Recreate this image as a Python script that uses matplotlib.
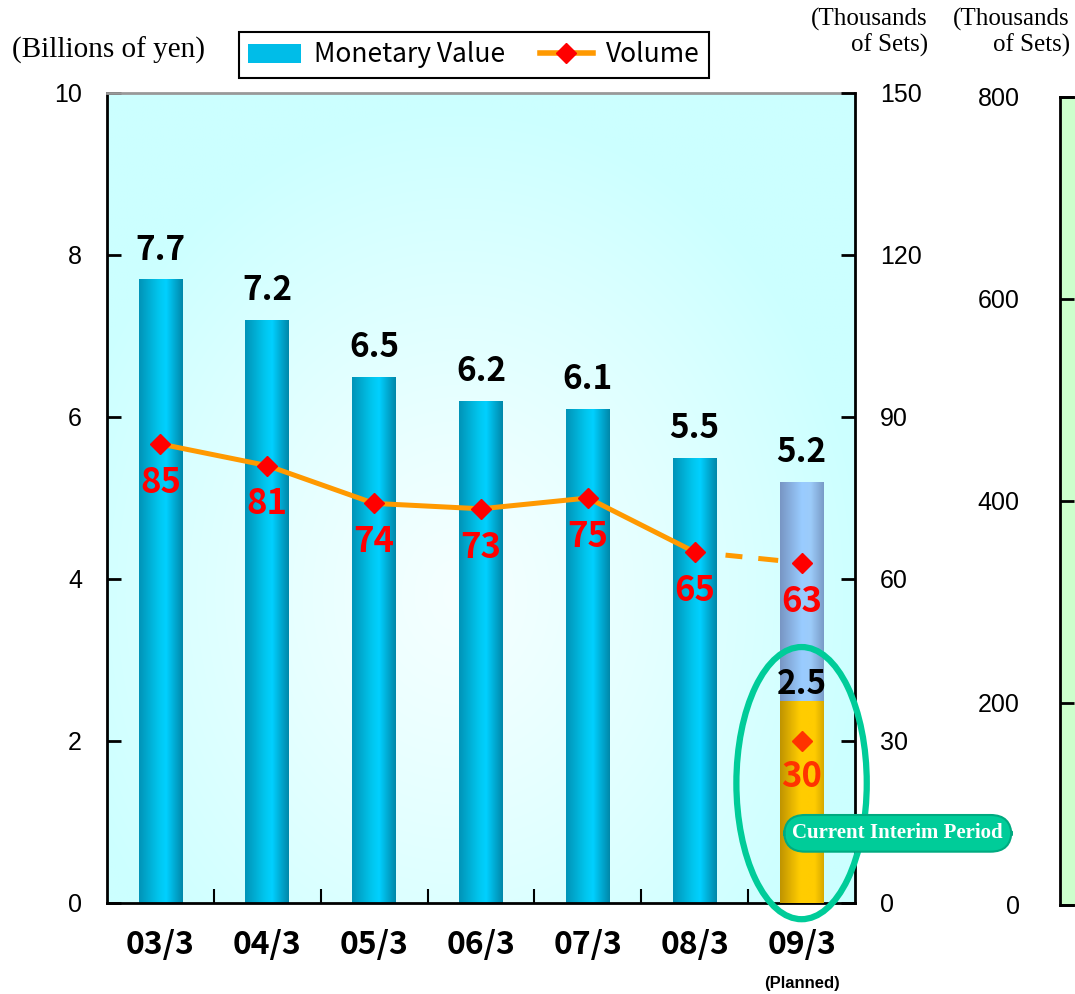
import numpy as np
import matplotlib
matplotlib.use("Agg")
import matplotlib.pyplot as plt
from matplotlib.colors import LinearSegmentedColormap
from matplotlib.patches import Ellipse, Patch
from matplotlib.lines import Line2D

plt.rcParams['lines.scale_dashes'] = False

# data
periods = ["03/3", "04/3", "05/3", "06/3", "07/3", "08/3", "09/3"]
monetary = [7.7, 7.2, 6.5, 6.2, 6.1, 5.5, 5.2]      # billions of yen
volume = [85, 81, 74, 73, 75, 65, 63]              # thousands of sets
interim_value = 2.5
interim_volume = 30
left_ticks = [0, 2, 4, 6, 8, 10]
right_ticks = [0, 30, 60, 90, 120, 150]
green_ticks = [0, 200, 400, 600, 800]

GOTHIC = ["Noto Sans CJK JP", "DejaVu Sans"]
SANS = ["Liberation Sans Narrow", "Liberation Sans", "DejaVu Sans"]
SERIF = ["Liberation Serif", "DejaVu Serif"]

fig = plt.figure(figsize=(10.75, 9.94), dpi=100)
ax = fig.add_axes([107/1075, 91/994, 748/1075, 810/994])

# radial-ish background gradient (cyan edges, whitish middle)
gy, gx = np.mgrid[0:1:300j, 0:1:300j]
d = np.sqrt(((gx - 0.47) / 1.0) ** 2 + ((gy - 0.38) / 1.1) ** 2)
t = np.clip(d / 0.55, 0, 1) ** 1.2
cyan = np.array([0.80, 1.0, 1.0])
white = np.array([0.96, 1.0, 1.0])
bg = white[None, None, :] * (1 - t[..., None]) + cyan[None, None, :] * t[..., None]
ax.imshow(bg, extent=[0, 1, 0, 1], transform=ax.transAxes, origin="lower",
          aspect="auto", zorder=0, interpolation="bilinear")

bar_cmap = LinearSegmentedColormap.from_list(
    "bar", [(0, "#0094B8"), (0.45, "#00C6EE"), (0.62, "#00D0FF"), (1, "#0088AA")])
plan_cmap = LinearSegmentedColormap.from_list(
    "plan", [(0, "#7896C4"), (0.5, "#99CCFF"), (0.7, "#9CCBFA"), (1, "#7A9CC8")])
gold_cmap = LinearSegmentedColormap.from_list(
    "gold", [(0, "#C09400"), (0.45, "#FFCC00"), (0.8, "#FFCC00"), (1, "#D8AA00")])
grad = np.linspace(0, 1, 64)[None, :]

x = np.arange(len(periods))
width = 0.41

def gradient_bar(xc, h, cmap, z):
    b = ax.bar(xc, h, width=width, color="none", edgecolor="none", zorder=z)[0]
    im = ax.imshow(grad, cmap=cmap, extent=[xc - width/2, xc + width/2, 0, h],
                   aspect="auto", zorder=z, interpolation="bilinear")
    im.set_clip_path(b)
    return b

for i, v in enumerate(monetary):
    cmap = plan_cmap if i == len(periods) - 1 else bar_cmap
    gradient_bar(x[i], v, cmap, 2)
    ax.annotate(f"{v}", (x[i], v), xytext=(0, 9), textcoords="offset points",
                ha="center", va="bottom", fontsize=24, fontweight="bold",
                family=GOTHIC, zorder=6)

gradient_bar(x[-1], interim_value, gold_cmap, 3)
ax.annotate(f"{interim_value}", (x[-1], interim_value), xytext=(0, 0),
            textcoords="offset points", ha="center", va="bottom", fontsize=24,
            fontweight="bold", family=GOTHIC, zorder=6)

ax.set_xlim(-0.5, len(periods) - 0.5)
ax.set_ylim(0, 10)
ax.set_yticks(left_ticks)
ax.set_xticks(x)
ax.set_xticklabels(periods, fontsize=23, fontweight="bold", family=GOTHIC)
ax.set_xticks(x[:-1] + 0.5, minor=True)
ax.tick_params(axis="x", which="major", length=0, pad=19)
ax.tick_params(axis="x", which="minor", direction="in", length=10, width=1.5)
ax.tick_params(axis="y", direction="in", length=10, width=2, pad=18, labelsize=18)
for lab in ax.get_yticklabels():
    lab.set_family(SANS)
for s in ["left", "bottom"]:
    ax.spines[s].set_linewidth(2)
ax.spines["top"].set_color("#999999")
ax.spines["top"].set_linewidth(2)
ax.spines["right"].set_visible(False)

ax.annotate("(Planned)", (x[-1], 0), xycoords=("data", "axes fraction"),
            xytext=(0, -58), textcoords="offset points", ha="center", va="center",
            fontsize=12, fontweight="bold", family=SANS)

# volume on the right axis
ax2 = ax.twinx()
ax2.set_ylim(0, 150)
ax2.set_yticks(right_ticks)
ax2.tick_params(axis="y", direction="in", length=10, width=2, pad=18, labelsize=18)
for lab in ax2.get_yticklabels():
    lab.set_family(SANS)
for s in ["left", "top", "bottom"]:
    ax2.spines[s].set_visible(False)
ax2.spines["right"].set_linewidth(2)

ax2.plot(x[:-1], volume[:-1], color="#FF9900", lw=3.6, zorder=3)
ax2.plot(x[-2:], volume[-2:], color="#FF9900", lw=3.6, zorder=3,
         linestyle=(54.7, (12.2, 11.5, 14.4, 38.9)), dash_capstyle="butt")
ax2.plot(x, volume, linestyle="none", marker="D", ms=10, color="#FF0000", zorder=4)
ax2.plot([x[-1]], [interim_volume], linestyle="none", marker="D", ms=10,
         color="#FF3300", zorder=4)
for i, v in enumerate(volume):
    ax2.annotate(f"{v}", (x[i], v), xytext=(0, -15), textcoords="offset points",
                 ha="center", va="top", fontsize=25, fontweight="bold",
                 color="#FF0000", family=GOTHIC, zorder=6)
ax2.annotate(f"{interim_volume}", (x[-1], interim_volume), xytext=(0, -13),
             textcoords="offset points", ha="center", va="top", fontsize=25,
             fontweight="bold", color="#FF3300", family=GOTHIC, zorder=6)

# highlight of the current interim period
ell = Ellipse((x[-1], 1.48), 1.22, 3.36, transform=ax.transData, fill=False,
              edgecolor="#00CC99", lw=4.5, zorder=7, clip_on=False)
ax2.add_patch(ell)
ax2.text(6.9, 0.86, "Current Interim Period", transform=ax.transData,
         ha="center", va="center", fontsize=15, fontweight="bold", family=SERIF,
         color="white", zorder=8, clip_on=False,
         bbox=dict(boxstyle="round,pad=0.4,rounding_size=1.0", fc="#00CC99",
                   ec="#00AA80", lw=1.5))

# green panel on the far right (cut off)
ax3 = fig.add_axes([1060/1075, 89/994, 0.2, 808/994])
ax3.set_facecolor("#CCFFCC")
ax3.set_ylim(0, 800)
ax3.set_yticks(green_ticks)
ax3.set_xticks([])
ax3.tick_params(axis="y", direction="in", length=10, width=2, pad=29, labelsize=18)
for lab in ax3.get_yticklabels():
    lab.set_family(SANS)
for s in ax3.spines.values():
    s.set_linewidth(2)

# headers
fig.text(12/1075, 1 - 50/994, "(Billions of yen)", ha="left", va="center",
         fontsize=21, family=SERIF)
fig.text(928/1075, 1 - 8/994, "(Thousands\nof Sets)", ha="right", va="top",
         fontsize=18, family=SERIF, linespacing=1.15)
fig.text(1070/1075, 1 - 8/994, "(Thousands\nof Sets)", ha="right", va="top",
         fontsize=18, family=SERIF, linespacing=1.15)

handles = [Patch(facecolor="#00BDE8", edgecolor="none"),
           Line2D([], [], color="#FF9900", lw=4, marker="D", ms=10,
                  markerfacecolor="#FF0000", markeredgecolor="#FF0000")]
leg = fig.legend(handles, ["Monetary Value", "Volume"], loc="center",
                 bbox_to_anchor=(474/1075, 1 - 55/994), ncol=2, frameon=True,
                 fancybox=False, edgecolor="black", framealpha=1,
                 prop={"family": GOTHIC, "size": 19}, handlelength=2.0,
                 handletextpad=0.5, columnspacing=1.3, borderpad=0.35)
leg.get_frame().set_linewidth(1.5)

fig.savefig("out.png", dpi=100)
